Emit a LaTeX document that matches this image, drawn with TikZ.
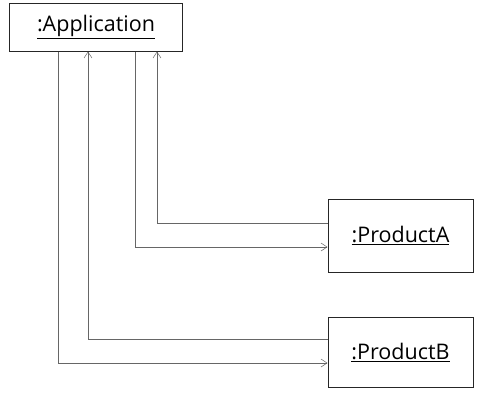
\documentclass[tikz,border=0pt]{standalone}
\usepackage{fontspec}
\setmainfont{Open Sans}
\usetikzlibrary{arrows.meta}
\begin{document}
\begin{tikzpicture}[x=1pt,y=-1pt,
  obj/.style={draw=black!85,line width=1pt,fill=white,inner sep=0pt,font=\fontsize{21.5}{24}\selectfont},
  conn/.style={draw=black!60,line width=0.6pt},
  tip/.style={-{Straight Barb[length=6pt,width=8pt,line width=0.5pt]}}]
\useasboundingbox (0,0) rectangle (499,407);
\node[obj,minimum width=173pt,minimum height=48pt] (app) at (96,27) {\underline{:Application}};
\node[obj,minimum width=145pt,minimum height=73pt] (pa) at (400.5,235.5) {\underline{:ProductA}};
\node[obj,minimum width=145pt,minimum height=70pt] (pb) at (400.5,352) {\underline{:ProductB}};
\draw[conn,tip] (pa.west |- 0,223) -| (app.south -| 157,0);
\draw[conn,tip] (app.south -| 135,0) |- (pa.west |- 0,247);
\draw[conn,tip] (pb.west |- 0,339) -| (app.south -| 88,0);
\draw[conn,tip] (app.south -| 58,0) |- (pb.west |- 0,363);
\end{tikzpicture}
\end{document}
